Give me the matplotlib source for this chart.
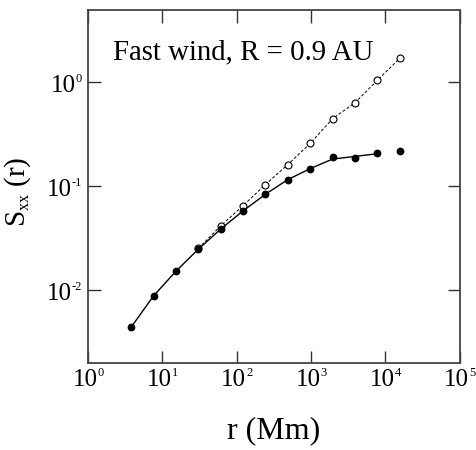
import math
import matplotlib
matplotlib.use("Agg")
import matplotlib.pyplot as plt
import matplotlib._mathtext as _mt
from matplotlib.ticker import FixedLocator, NullLocator

_mt.SHRINK_FACTOR = 0.55

plt.rcParams['font.family'] = ['Liberation Serif', 'DejaVu Serif']
plt.rcParams['mathtext.fontset'] = 'custom'
plt.rcParams['mathtext.rm'] = 'Liberation Serif'
plt.rcParams['mathtext.it'] = 'Liberation Serif:italic'

# data
r = [3.8, 7.6, 15.2, 30.4, 60.8, 121.6, 243, 486, 972, 1944, 3891, 7782, 15565]
s_filled = [0.0044, 0.0088, 0.0152, 0.0248, 0.0387, 0.058, 0.0838, 0.116,
            0.148, 0.190, 0.186, 0.207, 0.217]
s_fit = [0.0044, 0.0088, 0.0152, 0.0248, 0.0387, 0.058, 0.0838, 0.116,
         0.148, 0.183, 0.194, 0.206]
r_open = [30.4, 60.8, 121.6, 243, 486, 972, 1944, 3891, 7782, 15565]
s_open = [0.0252, 0.0416, 0.0652, 0.104, 0.162, 0.259, 0.448, 0.638, 1.05, 1.71]
xticks = [1, 10, 100, 1000, 10000, 100000]
yticks = [0.01, 0.1, 1]

DPI = 100
PT = 72.0 / DPI  # points per pixel

fig = plt.figure(figsize=(4.76, 4.5), dpi=DPI)
ax = fig.add_axes([0.185, 0.194, 0.781, 0.784])
ax.set_xscale('log')
ax.set_yscale('log')

ax.plot(r_open, s_open, linestyle=(0, (3, 2)), color='black', linewidth=0.7,
        marker='o', markersize=5, markerfacecolor='white',
        markeredgecolor='black', markeredgewidth=0.8)
ax.plot(r[:len(s_fit)], s_fit, '-', color='black', linewidth=1.0)
ax.plot(r, s_filled, 'o', color='black', markersize=4.6, linestyle='none')

ax.set_xlim(1, 1e5)
ax.set_ylim(0.002, 5)

ax.xaxis.set_major_locator(FixedLocator(xticks))
ax.yaxis.set_major_locator(FixedLocator(yticks))
ax.xaxis.set_minor_locator(NullLocator())
ax.yaxis.set_minor_locator(NullLocator())

ax.tick_params(which='major', direction='in', length=9, width=1.0,
               top=True, right=True, colors='#333333',
               labelbottom=False, labelleft=False)
for sp in ax.spines.values():
    sp.set_linewidth(1.3)
    sp.set_color('#444444')

MAIN_FS = 18
SUP_FS = 9
renderer = fig.canvas.get_renderer()


def exp_str(v):
    return str(int(round(math.log10(v))))


def text_width(s, fs):
    probe = fig.text(0, 0, s, fontsize=fs)
    w = probe.get_window_extent(renderer).width
    probe.remove()
    return w


# x tick labels: "10" + small raised exponent, centred as a whole on the tick
for t in xticks:
    es = exp_str(t)
    w_sup = text_width(es, SUP_FS)
    w_main = text_width('10', MAIN_FS)
    left = -(w_main + w_sup) / 2.0
    ax.annotate('10', xy=(t, 0), xycoords=('data', 'axes fraction'),
                xytext=(left * PT, -23 * PT), textcoords='offset points',
                ha='left', va='baseline', fontsize=MAIN_FS)
    ax.annotate(es, xy=(t, 0), xycoords=('data', 'axes fraction'),
                xytext=((left + w_main) * PT, -13 * PT),
                textcoords='offset points',
                ha='left', va='baseline', fontsize=SUP_FS)

# y tick labels: right edge of exponent 6 px left of the axis
for t in yticks:
    es = exp_str(t)
    w_sup = text_width(es, SUP_FS)
    ax.annotate(es, xy=(0, t), xycoords=('axes fraction', 'data'),
                xytext=(-6 * PT, 0.6 * PT), textcoords='offset points',
                ha='right', va='baseline', fontsize=SUP_FS)
    ax.annotate('10', xy=(0, t), xycoords=('axes fraction', 'data'),
                xytext=(-(6 + w_sup) * PT, -9.4 * PT),
                textcoords='offset points',
                ha='right', va='baseline', fontsize=MAIN_FS)

ax.set_xlabel('r (Mm)', fontsize=23)
ax.xaxis.set_label_coords(0.5, -0.151)
ax.set_ylabel(r'S$_{\mathregular{xx}}$ (r)', fontsize=21)
ax.yaxis.set_label_coords(-0.148, 0.485)

ax.text(0.068, 0.86, 'Fast wind, R = 0.9 AU', transform=ax.transAxes,
        fontsize=20.8, ha='left', va='baseline')

fig.savefig('out.png', dpi=DPI)
